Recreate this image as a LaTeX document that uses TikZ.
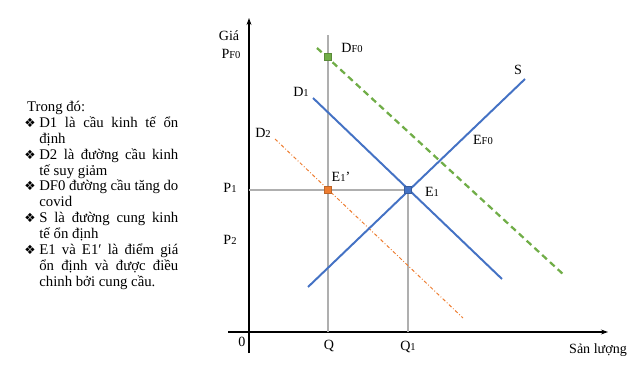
\documentclass[tikz,border=0pt]{standalone}
\usepackage{fontspec}
\setmainfont{Liberation Serif}
\newfontfamily\symfont{DejaVu Sans}
\usepackage{xcolor}
\definecolor{supblue}{RGB}{68, 114, 196}
\definecolor{covgreen}{RGB}{112, 173, 71}
\definecolor{recorange}{RGB}{237, 125, 49}
\definecolor{guidegray}{RGB}{175, 175, 175}
\usetikzlibrary{arrows.meta}
% small index letters as in the chart labels
\newcommand{\lo}[1]{{\fontsize{7.5}{8}\selectfont #1}}
\newcommand{\itm}{\par\noindent\hangindent=10.7pt\hangafter=1\makebox[10.7pt][l]{\symfont\fontsize{9}{8}\selectfont ❖}}

\begin{document}
\begin{tikzpicture}[x=0.025cm, y=-0.025cm,
    lbl/.style={font=\fontsize{10}{12}\selectfont, inner sep=0pt},
    axisline/.style={line width=1.3pt, -{Stealth[length=5pt, width=3.5pt]}},
    guide/.style={guidegray, line width=0.9pt},
    curve/.style={supblue, line width=1.4pt},
    dot/.style={rectangle, fill=#1, draw=#1!80!black, line width=0.3pt, minimum size=5pt, inner sep=0pt}]
    \useasboundingbox (0, 0) rectangle (640, 368);

    % Legend text
    \node[anchor=north west, inner sep=0pt, text width=3.85cm, align=justify,
          font=\fontsize{10.5}{11.3}\selectfont] (legend) at (24, 101) {\tolerance=10000
        \hspace*{2pt}Trong đó:
        \itm D1 là cầu kinh tế ổn\linebreak định
        \itm D2 là đường cầu kinh\linebreak tế suy giảm
        \itm DF0 đường cầu tăng do\linebreak covid
        \itm S là đường cung kinh\linebreak tế ổn định
        \itm E1 và E1′ là điểm giá\linebreak ổn định và được điều\linebreak chinh bởi cung cầu.\par};

    % Axes
    \coordinate (O) at (249, 332);
    \coordinate (ybot) at (249, 353);
    \coordinate (ytop) at (249, 18);
    \coordinate (xleft) at (228, 332);
    \coordinate (xright) at (608, 332);
    \draw[axisline] (ybot) -- (ytop);
    \draw[axisline] (xleft) -- (xright);

    % Key points
    \coordinate (Fpt) at (328, 57);
    \coordinate (E1p) at (328, 190);
    \coordinate (E1) at (408, 190);
    \coordinate (Qtop) at (328, 35);
    \coordinate (Qax) at (328, 332);
    \coordinate (Q1ax) at (408, 332);
    \coordinate (P1ax) at (249, 190);

    % Guide lines
    \draw[guide] (Qtop) -- (Qax);
    \draw[guide] (E1) -- (Q1ax);
    \draw[guide] (P1ax) -- (E1);

    % Demand and supply curves
    \coordinate (DFa) at (317, 48);
    \coordinate (DFb) at (564, 275);
    \coordinate (D1a) at (313, 98);
    \coordinate (D1b) at (502, 279);
    \coordinate (Sa) at (308, 287);
    \coordinate (Sb) at (525, 79);
    \coordinate (D2a) at (275, 139);
    \coordinate (D2b) at (463, 318);
    \draw[covgreen, line width=1.6pt, dash pattern=on 4.5pt off 3pt] (DFa) -- (DFb);
    \draw[recorange, line width=0.7pt, dash pattern=on 2.5pt off 1.5pt on 0.6pt off 1.5pt] (D2a) -- (D2b);
    \draw[curve] (D1a) -- (D1b);
    \draw[curve] (Sa) -- (Sb);

    % Equilibrium markers
    \node[dot=covgreen] (mF) at (Fpt) {};
    \node[dot=recorange] (mE1p) at (E1p) {};
    \node[dot=supblue] (mE1) at (E1) {};

    % Labels
    \node[lbl] (gia) at (229, 36) {Giá};
    \node[lbl] (pf0) at (231, 54) {P\lo{F0}};
    \node[lbl] (p1) at (230, 188) {P\lo{1}};
    \node[lbl] (p2) at (230, 240) {P\lo{2}};
    \node[lbl] (zero) at (242, 342) {0};
    \node[lbl] (q) at (329, 346) {Q};
    \node[lbl] (q1) at (408, 347) {Q\lo{1}};
    \node[lbl] (sl) at (598, 350) {Sản lượng};
    \node[lbl] (ld1) at (301, 92) {D\lo{1}};
    \node[lbl] (ld2) at (263, 133) {D\lo{2}};
    \node[lbl] (ldf) at (352, 48) {D\lo{F0}};
    \node[lbl] (ls) at (518, 70) {S};
    \node[lbl] (lef) at (483, 140) {E\lo{F0}};
    \node[lbl] (le1) at (432, 192) {E\lo{1}};
    \node[lbl] (le1p) at (341, 177) {E\lo{1}’};
\end{tikzpicture}
\end{document}
